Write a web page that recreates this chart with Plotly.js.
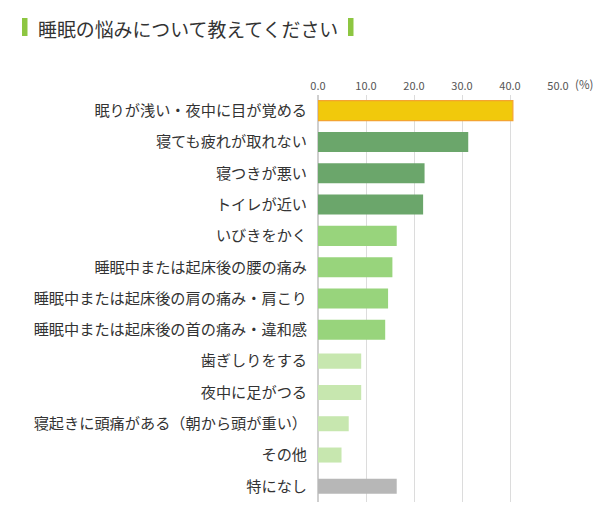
<!DOCTYPE html>
<html>
<head>
<meta charset="utf-8">
<script src="https://cdn.plot.ly/plotly-3.0.1.min.js"></script>
<style>
  html, body { margin: 0; padding: 0; background: #ffffff; }
  #chart { width: 615px; height: 510px; }
</style>
</head>
<body>
<div id="chart"></div>
<script>
// 睡眠の悩み（複数回答, %）
const categories = [
  '眠りが浅い・夜中に目が覚める',
  '寝ても疲れが取れない',
  '寝つきが悪い',
  'トイレが近い',
  'いびきをかく',
  '睡眠中または起床後の腰の痛み',
  '睡眠中または起床後の肩の痛み・肩こり',
  '睡眠中または起床後の首の痛み・違和感',
  '歯ぎしりをする',
  '夜中に足がつる',
  '寝起きに頭痛がある（朝から頭が重い）',
  'その他',
  '特になし'
];
const values = [40.6, 31.3, 22.2, 21.9, 16.4, 15.5, 14.6, 14.0, 9.0, 9.0, 6.4, 4.9, 16.4];
const tickValues = [0, 10, 20, 30, 40, 50];
const tickLabels = ['0.0', '10.0', '20.0', '30.0', '40.0', '50.0'];

// colour groups: top answer, strong, medium, minor, none
const barColors = [
  '#F1C90C',
  '#6BA66B', '#6BA66B', '#6BA66B',
  '#98D47C', '#98D47C', '#98D47C', '#98D47C',
  '#C7E7AF', '#C7E7AF', '#C7E7AF', '#C7E7AF',
  '#B7B7B7'
];
const lineColors = barColors.map((c, i) => i === 0 ? '#F4A431' : c);
const lineWidths = barColors.map((c, i) => i === 0 ? 1.2 : 0);
const barWidths = barColors.map((c, i) => i < 8 ? 0.64 : 0.48);

const W = 615, H = 510;
const M = { l: 318, r: 57, t: 95, b: 8 };
const px2x = p => (p - M.l) / (W - M.l - M.r);
const px2y = p => (H - M.b - p) / (H - M.t - M.b);

const trace = {
  type: 'bar',
  orientation: 'h',
  x: values,
  y: categories,
  width: barWidths,
  marker: { color: barColors, line: { color: lineColors, width: lineWidths } },
  hoverinfo: 'x+y'
};

const layout = {
  width: W,
  height: H,
  margin: M,
  paper_bgcolor: '#ffffff',
  plot_bgcolor: '#ffffff',
  showlegend: false,
  font: { family: '"Noto Sans CJK JP", "Noto Sans", sans-serif', color: '#333333' },
  xaxis: {
    side: 'top',
    range: [0, 50],
    tickvals: tickValues,
    ticktext: tickLabels,
    tickfont: { size: 11, color: '#555555' },
    showgrid: true,
    gridcolor: '#dcdcdc',
    gridwidth: 1,
    zeroline: true,
    zerolinecolor: '#cfcfcf',
    zerolinewidth: 1.5,
    showline: false,
    ticks: '',
    ticklabelstandoff: 2,
    fixedrange: true
  },
  yaxis: {
    type: 'category',
    autorange: 'reversed',
    tickfont: { size: 15.2, color: '#333333' },
    ticks: '',
    showgrid: false,
    showline: false,
    ticklabelstandoff: 10,
    fixedrange: true
  },
  shapes: [
    { type: 'rect', xref: 'paper', yref: 'paper',
      x0: px2x(22), x1: px2x(27.5), y0: px2y(36), y1: px2y(18),
      fillcolor: '#8DC641', line: { width: 0 } },
    { type: 'rect', xref: 'paper', yref: 'paper',
      x0: px2x(348), x1: px2x(353.5), y0: px2y(36), y1: px2y(18),
      fillcolor: '#8DC641', line: { width: 0 } }
  ],
  annotations: [
    { text: '睡眠の悩みについて教えてください', xref: 'paper', yref: 'paper',
      x: px2x(36), y: px2y(28), xanchor: 'left', yanchor: 'middle', showarrow: false,
      font: { size: 18.9, color: '#333333' } },
    { text: '(%)', xref: 'paper', yref: 'paper',
      x: px2x(573), y: px2y(84), xanchor: 'left', yanchor: 'middle', showarrow: false,
      font: { size: 11.5, color: '#555555' } }
  ]
};

Plotly.newPlot('chart', [trace], layout, { displayModeBar: false, staticPlot: true });
</script>
</body>
</html>
